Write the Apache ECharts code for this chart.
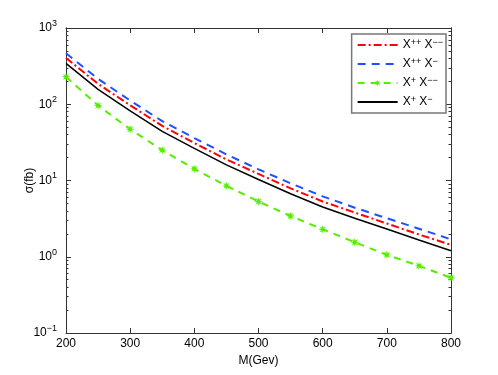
<!DOCTYPE html>
<html>
<head>
<meta charset="utf-8">
<script src="https://cdn.jsdelivr.net/npm/echarts@6/dist/echarts.min.js"></script>
<style>html,body{margin:0;padding:0;background:#fff}#main{width:498px;height:375px}</style>
</head>
<body>
<div id="main"></div>
<script>
var mass = [200, 250, 300, 350, 400, 450, 500, 550, 600, 650, 700, 750, 800];
// cross sections (fb)
var ppmm = [405, 185, 97, 52, 31, 18.9, 12.2, 7.9, 5.3, 3.8, 2.73, 1.96, 1.43];
var ppm = [466, 215, 112, 60, 36, 22, 14, 9.2, 6.2, 4.4, 3.2, 2.33, 1.69];
var pmm = [229, 96, 47, 25, 14.2, 8.5, 5.3, 3.42, 2.29, 1.55, 1.06, 0.76, 0.53];
var pm = [344, 157, 82, 44, 26.4, 16, 10.3, 6.7, 4.5, 3.2, 2.31, 1.66, 1.2];
var yMajor = [0.1, 1, 10, 100, 1000];
var yMinor = [];
for (var d = 0.1; d < 1000; d *= 10) {
    for (var k = 2; k <= 9; k++) yMinor.push(+(d * k).toPrecision(3));
}
var names = ['X++ X--', 'X++ X-', 'X+ X--', 'X+ X-'];
var legendText = {
    'X++ X--': 'X{s|++} X{s|−−}',
    'X++ X-': 'X{s|++} X{s|−}',
    'X+ X--': 'X{s|+} X{s|−−}',
    'X+ X-': 'X{s|+} X{s|−}'
};

function pairs(ys) {
    return mass.map(function (m, i) { return [m, ys[i]]; });
}

// asterisk-like marker
var star = 'path://';
for (var j = 0; j < 16; j++) {
    var r = j % 2 ? 4 : 10, a = j * Math.PI / 8;
    star += (j ? 'L' : 'M') + (10 + r * Math.cos(a)).toFixed(2) + ',' + (10 + r * Math.sin(a)).toFixed(2);
}
star += 'Z';

var font = 'Liberation Sans';
var axisCol = '#333';
var gridBox = { left: 66, right: 47, top: 28, bottom: 42 };

function yAx(pos, grid, ticks, len, labels) {
    return {
        type: 'log', logBase: 10, min: 0.1, max: 1000, position: pos, gridIndex: grid,
        axisLine: { show: true, lineStyle: { color: axisCol, width: 1 } },
        axisTick: { show: true, inside: true, length: len, customValues: ticks,
            lineStyle: { color: axisCol } },
        axisLabel: labels ? {
            show: true, customValues: yMajor, color: '#000', fontFamily: font, fontSize: 12, margin: 9,
            formatter: function (v) {
                var e = Math.round(Math.log10(v));
                return '10{s|' + (e < 0 ? '−' + (-e) : e) + '}';
            },
            rich: { s: { fontSize: 9, verticalAlign: 'top', padding: [0, 0, 9, 0], fontFamily: font, color: '#000' } }
        } : { show: false },
        splitLine: { show: false },
        name: labels ? 'σ(fb)' : '', nameLocation: 'middle', nameGap: 30, nameMoveOverlap: false,
        nameTextStyle: { color: '#000', fontFamily: font, fontSize: 12 }
    };
}

function xAx(pos, grid, labels, show) {
    return {
        type: 'value', min: 200, max: 800, interval: 100, position: pos, gridIndex: grid, show: show,
        axisLine: { show: true, lineStyle: { color: axisCol, width: 1 } },
        axisTick: { show: true, inside: true, length: 5, lineStyle: { color: axisCol } },
        axisLabel: { show: labels, color: '#000', fontFamily: font, fontSize: 12, margin: 5 },
        splitLine: { show: false },
        name: labels ? 'M(Gev)' : '', nameLocation: 'middle', nameGap: 22, nameMoveOverlap: false,
        nameTextStyle: { color: '#000', fontFamily: font, fontSize: 12 }
    };
}

var chart = echarts.init(document.getElementById('main'));
chart.setOption({
    animation: false,
    backgroundColor: '#fff',
    grid: [gridBox, gridBox],
    xAxis: [xAx('bottom', 0, true, true), xAx('top', 0, false, true), xAx('bottom', 1, false, false)],
    yAxis: [
        yAx('left', 0, yMajor, 5, true),
        yAx('right', 0, yMajor, 5, false),
        yAx('left', 1, yMinor, 2.5, false),
        yAx('right', 1, yMinor, 2.5, false)
    ],
    legend: {
        orient: 'vertical', right: 52, top: 34,
        data: [
            { name: names[0], itemStyle: { opacity: 0 } },
            { name: names[1], itemStyle: { opacity: 0 } },
            { name: names[2] },
            { name: names[3], itemStyle: { opacity: 0 } }
        ],
        backgroundColor: '#fff',
        borderColor: '#777', borderWidth: 1.5, borderRadius: 0,
        padding: [4, 3, 3, 5],
        itemWidth: 40, itemHeight: 9, itemGap: 4,
        formatter: function (n) { return legendText[n]; },
        textStyle: {
            color: '#000', fontFamily: font, fontSize: 12, lineHeight: 14,
            rich: { s: { fontSize: 9, verticalAlign: 'top', lineHeight: 9, padding: [0, 0, 6, 0], fontFamily: font, color: '#000' } }
        }
    },
    series: [
        {
            name: names[0], type: 'line', data: pairs(ppmm), symbol: 'none',
            lineStyle: { color: '#ff0000', width: 2, type: [8, 3, 2, 3] }, itemStyle: { color: '#ff0000' }
        },
        {
            name: names[1], type: 'line', data: pairs(ppm), symbol: 'none',
            lineStyle: { color: '#1f4fff', width: 2, type: [8, 6] }, itemStyle: { color: '#1f4fff' }
        },
        {
            name: names[2], type: 'line', data: pairs(pmm), symbol: star, symbolSize: 9,
            lineStyle: { color: '#55ee00', width: 2, type: [7, 6] }, itemStyle: { color: '#55ee00' }
        },
        {
            name: names[3], type: 'line', data: pairs(pm), symbol: 'none',
            lineStyle: { color: '#000', width: 1.5 }, itemStyle: { color: '#000' }
        }
    ]
});
</script>
</body>
</html>
